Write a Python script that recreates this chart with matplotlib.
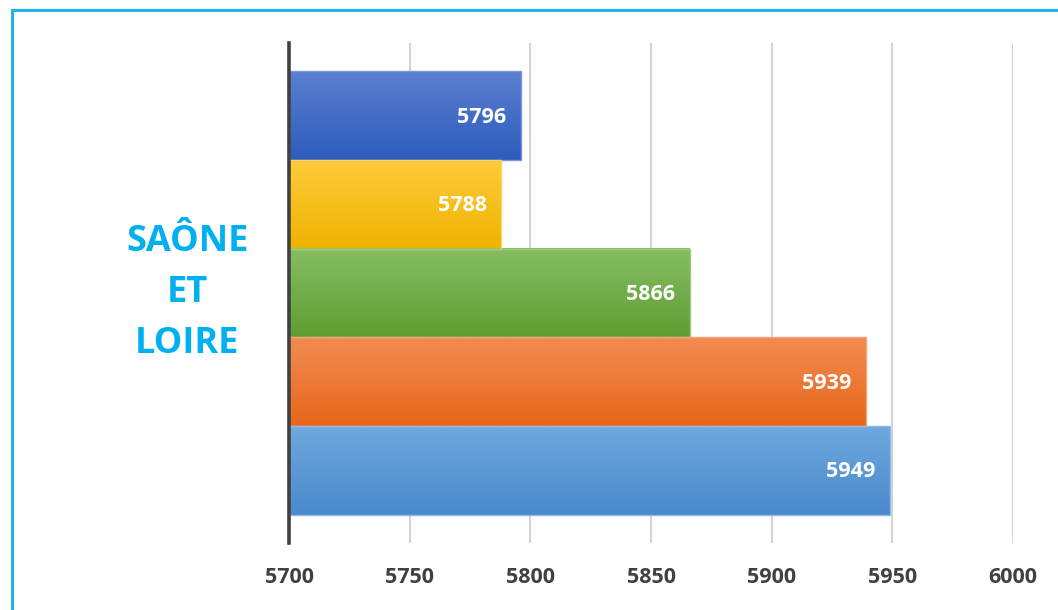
import numpy as np
import matplotlib
matplotlib.use("Agg")
import matplotlib.pyplot as plt
from matplotlib.colors import to_rgb
from matplotlib.patches import Rectangle

values = [5796, 5788, 5866, 5939, 5949]
labels = ["5796", "5788", "5866", "5939", "5949"]
xticks = [5700, 5750, 5800, 5850, 5900, 5950, 6000]
category = "SAÔNE\nET\nLOIRE"
# top / bottom gradient colours of each bar
top_cols = ["#5b7fd0", "#ffcb3a", "#86bd62", "#f28c52", "#6ea8de"]
bot_cols = ["#2d5cbc", "#eeb300", "#5f9e33", "#e8661a", "#4a8acb"]
edge_cols = ["#7a98dc", "#ffd45e", "#9bc97d", "#f5a374", "#8dbbe6"]

plt.rcParams['font.family'] = ['Open Sans', 'DejaVu Sans']

fig = plt.figure(figsize=(10.58, 6.10), dpi=100)
fig.patch.set_facecolor("white")

# frame around the picture
fig.patches.append(Rectangle((12 / 1058, -0.1), 1.2, 1 - 10 / 610 + 0.1,
                             transform=fig.transFigure, fill=False,
                             edgecolor="#1fb4ee", linewidth=2.2, zorder=0))

ax = fig.add_axes([289 / 1058, 1 - 543 / 610, 724 / 1058, 500 / 610])
ax.set_facecolor("none")

pos = np.arange(len(values))
bars = ax.barh(pos, [v - 5700 for v in values], left=5700, height=1.0,
               color="none", edgecolor="none", zorder=2)

for b, tc, bc, ec, lab in zip(bars, top_cols, bot_cols, edge_cols, labels):
    x0, y0 = b.get_x(), b.get_y()
    w, h = b.get_width(), b.get_height()
    t = np.linspace(0, 1, 64)[:, None]
    grad = (1 - t)[..., None] * np.array(to_rgb(tc)) + t[..., None] * np.array(to_rgb(bc))
    grad = np.repeat(grad, 2, axis=1)
    ax.imshow(grad, extent=(x0, x0 + w, y0 + h, y0), origin="upper",
              aspect="auto", zorder=2, interpolation="bilinear")
    ax.add_patch(Rectangle((x0, y0), w, h, fill=False, edgecolor=ec,
                           linewidth=1.0, zorder=3))
    ax.annotate(lab, (x0 + w, y0 + h / 2), xytext=(-10.5, -1),
                textcoords="offset points", ha="right", va="center",
                color="white", fontsize=15.5, fontweight="bold", zorder=4)

ax.set_xlim(5700, 6000)
ax.set_ylim(len(values) - 0.5 + 0.32, -0.5 - 0.32)
ax.set_xticks(xticks)
ax.set_xticklabels([str(x) for x in xticks])
ax.set_yticks([])
ax.grid(axis="x", color="#d0d0d0", linewidth=1.3, zorder=1)
ax.set_axisbelow(True)
for s in ["top", "right", "bottom"]:
    ax.spines[s].set_visible(False)
ax.spines["left"].set_color("#404040")
ax.spines["left"].set_linewidth(2.6)
ax.spines["left"].set_zorder(5)
ax.tick_params(axis="x", length=0, pad=17, labelsize=15.5, labelcolor="#404040")
for t in ax.get_xticklabels():
    t.set_fontweight("bold")

fig.text(187 / 1058, 1 - 293 / 610, category, ha="center", va="center",
         color="#00b0f0", fontsize=26, fontweight="bold", linespacing=1.55)

fig.savefig("out.png", dpi=100)
